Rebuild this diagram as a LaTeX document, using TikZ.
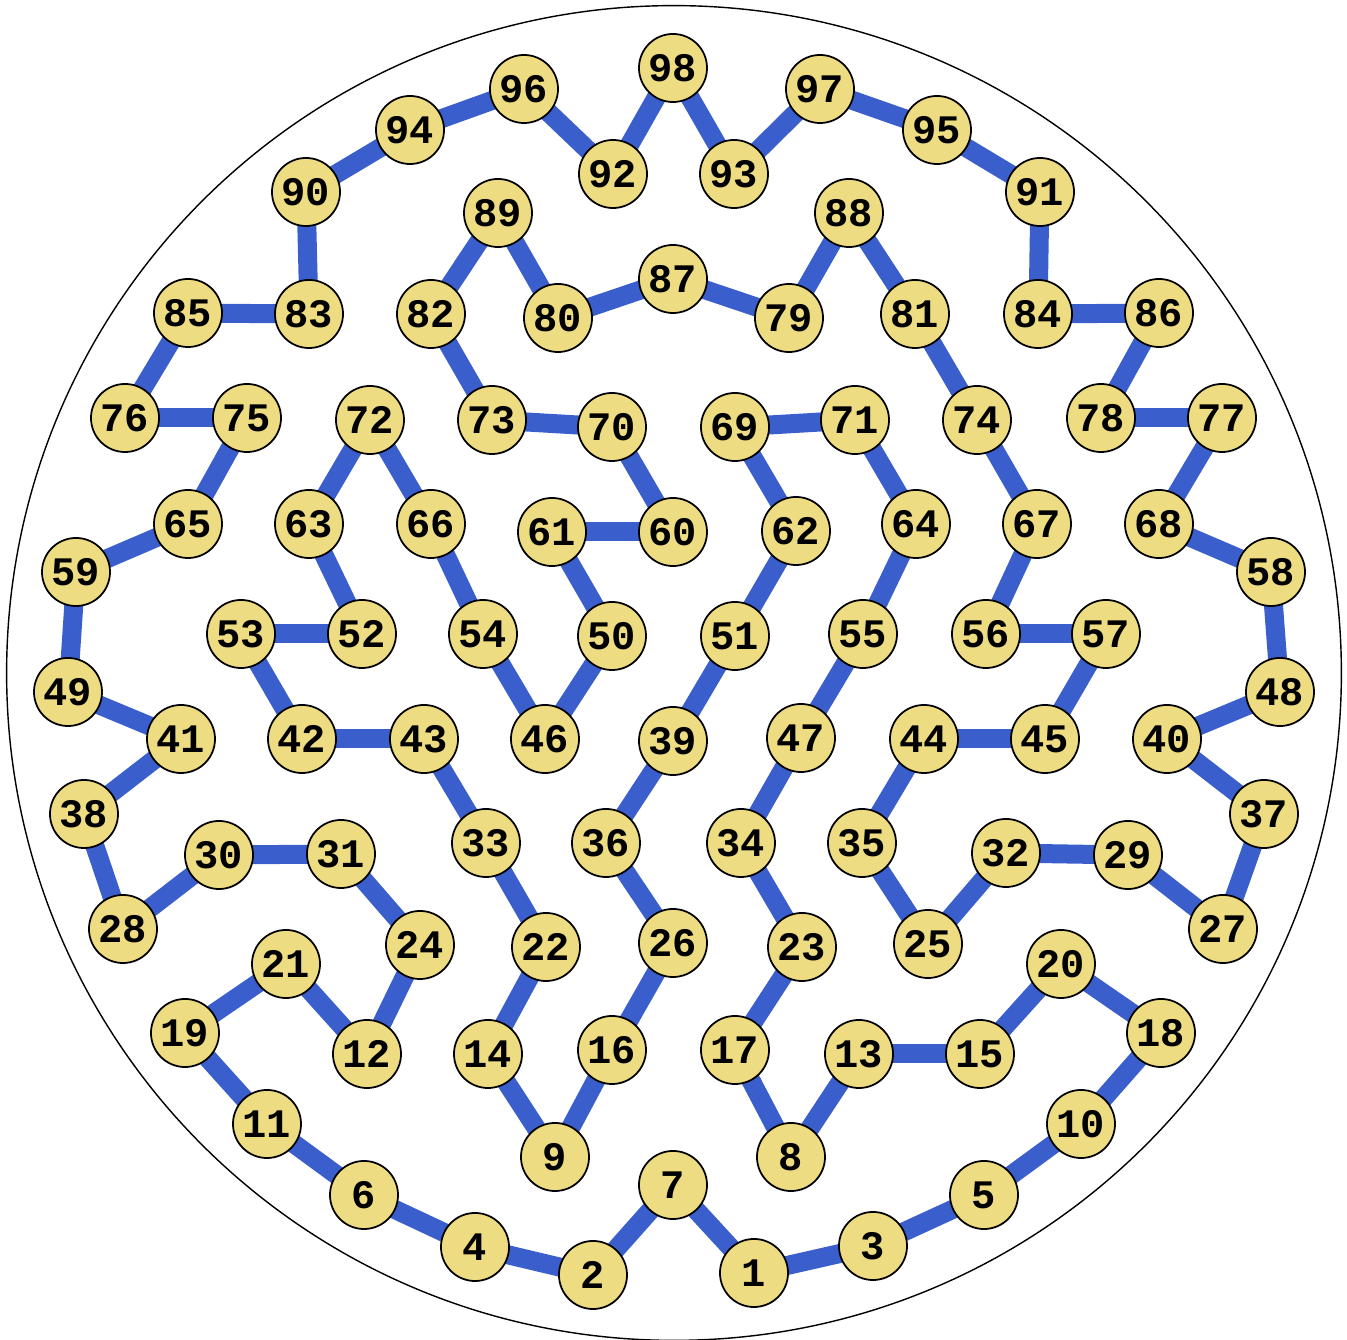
\documentclass[tikz,border=0pt]{standalone}
\usepackage{fontspec}
\newfontfamily\numfont{Liberation Mono}[BoldFont={* Bold}]
\definecolor{edgeblue}{RGB}{58,95,205}
\definecolor{nodefill}{RGB}{238,220,130}
\tikzset{
  vtx/.style={circle,draw=black,line width=0.5pt,fill=nodefill,minimum size=0.68cm,inner sep=0pt,font=\numfont\bfseries\fontsize{11.5}{12}\selectfont},
  link/.style={draw=edgeblue,line width=0.19cm}
}
\begin{document}
\begin{tikzpicture}[x=0.01cm,y=-0.01cm]
\useasboundingbox (0,0) rectangle (1347,1340);
\draw[line width=0.4pt] (674,673) circle[radius=6.67cm];
\foreach \n/\x/\y in {
1/754/1273, 2/593/1275, 3/873/1246, 4/475/1247, 5/984/1195, 6/364/1195, 7/673/1185, 8/791/1157,
9/555/1157, 10/1081/1124, 11/267/1124, 12/367/1054, 13/859/1054, 14/488/1054, 15/980/1054, 16/612/1050,
17/735/1050, 18/1161/1033, 19/185/1033, 20/1061/964, 21/286/964, 22/546/947, 23/802/947, 24/420/945,
25/928/944, 26/673/943, 27/1223/929, 28/123/929, 29/1128/855, 30/219/855, 31/341/854, 32/1006/853,
33/486/843, 34/741/843, 35/862/843, 36/606/843, 37/1264/814, 38/84/814, 39/673/741, 40/1167/739,
41/181/739, 42/302/739, 43/424/739, 44/924/739, 45/1045/739, 46/545/739, 47/801/738, 48/1280/692,
49/68/692, 50/612/636, 51/735/636, 52/362/634, 53/241/634, 54/483/634, 55/863/634, 56/986/634,
57/1106/634, 58/1271/572, 59/76/572, 60/673/532, 61/552/532, 62/796/531, 63/309/524, 64/916/524,
65/188/524, 66/431/524, 67/1037/524, 68/1159/524, 69/735/427, 70/612/427, 71/855/420, 72/370/420,
73/492/420, 74/977/420, 75/247/418, 76/125/418, 77/1222/418, 78/1101/418, 79/789/318, 80/558/318,
81/915/314, 82/431/314, 83/309/314, 84/1038/314, 85/188/313, 86/1159/313, 87/673/279, 88/849/213,
89/498/213, 90/306/192, 91/1040/192, 92/613/174, 93/734/174, 94/410/130, 95/937/130, 96/524/89,
97/820/89, 98/673/68}
  \coordinate (c\n) at (\x,\y);
\foreach \a/\b in {1/7, 7/2, 2/4, 4/6, 6/11, 11/19, 19/21, 21/12, 12/24, 24/31, 31/30, 30/28, 28/38,
38/41, 41/49, 49/59, 59/65, 65/75, 75/76, 76/85, 85/83, 83/90, 90/94, 94/96, 96/92, 92/98, 98/93,
93/97, 97/95, 95/91, 91/84, 84/86, 86/78, 78/77, 77/68, 68/58, 58/48, 48/40, 40/37, 37/27, 27/29,
29/32, 32/25, 25/35, 35/44, 44/45, 45/57, 57/56, 56/67, 67/74, 74/81, 81/88, 88/79, 79/87, 87/80,
80/89, 89/82, 82/73, 73/70, 70/60, 60/61, 61/50, 50/46, 46/54, 54/66, 66/72, 72/63, 63/52, 52/53,
53/42, 42/43, 43/33, 33/22, 22/14, 14/9, 9/16, 16/26, 26/36, 36/39, 39/51, 51/62, 62/69, 69/71,
71/64, 64/55, 55/47, 47/34, 34/23, 23/17, 17/8, 8/13, 13/15, 15/20, 20/18, 18/10, 10/5, 5/3, 3/1}
  \draw[link] (c\a) -- (c\b);
\foreach \n in {1,...,98}
  \node[vtx] (v\n) at (c\n) {\n};
\end{tikzpicture}
\end{document}
